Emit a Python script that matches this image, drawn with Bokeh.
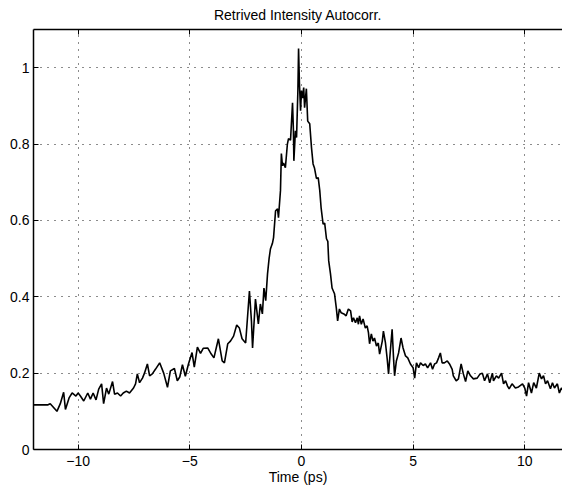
from bokeh.plotting import figure
from bokeh.models import Range1d, FixedTicker, LinearAxis, CustomLabelingPolicy
from bokeh.embed import file_html
from bokeh.resources import INLINE

title_text = "Retrived Intensity Autocorr."
x_label = "Time (ps)"
x_ticks = [-10, -5, 0, 5, 10]
x_tick_labels = ["\u221210", "\u22125", "0", "5", "10"]
y_ticks = [0, 0.2, 0.4, 0.6, 0.8, 1.0]
y_tick_labels = ["0", "0.2", "0.4", "0.6", "0.8", "1"]

time_ps = [
    -12.0, -11.35, -11.25, -11.1, -10.95, -10.8, -10.65, -10.57, -10.4, -10.27,
    -10.1, -10.0, -9.9, -9.75, -9.57, -9.45, -9.33, -9.2, -9.08, -8.95,
    -8.86, -8.73, -8.63, -8.46, -8.37, -8.24, -8.1, -7.98, -7.84, -7.7,
    -7.52, -7.43, -7.35, -7.25, -7.12, -7.03, -6.9, -6.8, -6.68, -6.54,
    -6.35, -6.17, -6.0, -5.87, -5.69, -5.56, -5.45, -5.33, -5.2, -5.06,
    -4.9, -4.8, -4.66, -4.52, -4.4, -4.2, -4.04, -3.92, -3.72, -3.55,
    -3.45, -3.3, -3.18, -3.04, -2.9, -2.78, -2.66, -2.5, -2.33, -2.24,
    -2.19, -2.06, -1.93, -1.84, -1.75, -1.68, -1.6, -1.52, -1.45, -1.39,
    -1.3, -1.25, -1.16, -1.07, -1.03, -0.94, -0.9, -0.85, -0.8, -0.72,
    -0.63, -0.58, -0.49, -0.4, -0.36, -0.34, -0.27, -0.22, -0.16, -0.13,
    -0.09, -0.04, 0.0, 0.05, 0.1, 0.14, 0.22, 0.28, 0.37, 0.45,
    0.52, 0.58, 0.67, 0.75, 0.82, 0.88, 0.97, 1.04, 1.12, 1.18,
    1.22, 1.3, 1.37, 1.48, 1.56, 1.62, 1.7, 1.78, 1.9, 2.0,
    2.1, 2.2, 2.27, 2.33, 2.42, 2.5, 2.55, 2.6, 2.68, 2.76,
    2.86, 2.94, 3.0, 3.05, 3.13, 3.2, 3.27, 3.36, 3.44, 3.5,
    3.62, 3.67, 3.76, 3.84, 3.9, 3.98, 4.06, 4.13, 4.17, 4.25,
    4.35, 4.46, 4.55, 4.66, 4.76, 4.88, 5.0, 5.07, 5.15, 5.25,
    5.33, 5.45, 5.55, 5.65, 5.78, 5.87, 5.96, 6.05, 6.14, 6.22,
    6.3, 6.4, 6.53, 6.63, 6.75, 6.8, 6.93, 7.03, 7.15, 7.25,
    7.35, 7.45, 7.57, 7.7, 7.87, 8.0, 8.1, 8.2, 8.33, 8.43,
    8.55, 8.6, 8.73, 8.83, 8.96, 9.05, 9.14, 9.23, 9.3, 9.43,
    9.58, 9.72, 9.9, 10.0, 10.08, 10.17, 10.3, 10.4, 10.52, 10.65,
    10.75, 10.84, 10.93, 11.02, 11.15, 11.24, 11.33, 11.46, 11.55, 11.64,
    11.8,
]
intensity = [
    0.117, 0.117, 0.12, 0.11, 0.10, 0.12, 0.15, 0.105, 0.136, 0.148,
    0.14, 0.148, 0.14, 0.127, 0.148, 0.132, 0.148, 0.13, 0.158, 0.172,
    0.12, 0.161, 0.145, 0.178, 0.145, 0.148, 0.14, 0.148, 0.153, 0.148,
    0.161, 0.172, 0.198, 0.175, 0.187, 0.2, 0.224, 0.193, 0.198, 0.21,
    0.227, 0.2, 0.163, 0.206, 0.212, 0.18, 0.19, 0.222, 0.192, 0.224,
    0.254, 0.216, 0.268, 0.252, 0.265, 0.266, 0.25, 0.24, 0.29, 0.232,
    0.227, 0.277, 0.284, 0.297, 0.326, 0.318, 0.29, 0.279, 0.415, 0.337,
    0.266, 0.394, 0.329, 0.381, 0.355, 0.423, 0.39, 0.46, 0.50, 0.525,
    0.54, 0.555, 0.625, 0.63, 0.607, 0.678, 0.775, 0.743, 0.75, 0.738,
    0.8, 0.814, 0.81, 0.908, 0.835, 0.756, 0.835, 0.817, 0.94, 1.05,
    0.958, 0.887, 0.94, 0.92, 0.948, 0.895, 0.945, 0.86, 0.853, 0.79,
    0.748, 0.738, 0.71, 0.712, 0.678, 0.633, 0.59, 0.593, 0.552, 0.545,
    0.494, 0.46, 0.423, 0.408, 0.371, 0.337, 0.368, 0.358, 0.355, 0.35,
    0.368, 0.363, 0.334, 0.345, 0.332, 0.345, 0.328, 0.35, 0.328, 0.342,
    0.318, 0.324, 0.306, 0.277, 0.303, 0.284, 0.292, 0.271, 0.279, 0.25,
    0.284, 0.31, 0.28, 0.237, 0.198, 0.258, 0.315, 0.232, 0.193, 0.232,
    0.253, 0.292, 0.266, 0.245, 0.24, 0.224, 0.214, 0.187, 0.227, 0.214,
    0.227, 0.22, 0.224, 0.214, 0.227, 0.21, 0.224, 0.227, 0.24, 0.253,
    0.227, 0.227, 0.232, 0.224, 0.21, 0.193, 0.18, 0.185, 0.224, 0.198,
    0.178, 0.206, 0.193, 0.185, 0.187, 0.198, 0.2, 0.18, 0.198, 0.175,
    0.2, 0.18, 0.193, 0.187, 0.2, 0.172, 0.18, 0.166, 0.159, 0.172,
    0.161, 0.164, 0.172, 0.161, 0.14, 0.175, 0.148, 0.175, 0.161, 0.2,
    0.185, 0.193, 0.172, 0.18, 0.159, 0.175, 0.161, 0.172, 0.148, 0.161,
    0.15,
]

FONT = "Liberation Sans"

p = figure(
    width=562, height=488,
    x_range=Range1d(-12, 11.69), y_range=Range1d(0, 1.1),
    output_backend="svg", toolbar_location=None,
    min_border_left=33, min_border_right=0, min_border_top=29, min_border_bottom=39,
)
p.background_fill_color = "white"
p.border_fill_color = "white"
p.outline_line_color = None

p.title.text = title_text
p.title.align = "center"
p.title.text_font = FONT
p.title.text_font_size = "14px"
p.title.text_font_style = "normal"
p.title.text_color = "black"
p.title.offset = 4
p.title.standoff = 6

p.line(time_ps, intensity, line_color="black", line_width=1.6)

xa = p.xaxis[0]
xa.ticker = FixedTicker(ticks=x_ticks)
xa.major_label_overrides = {t: l for t, l in zip(x_ticks, x_tick_labels)}
xa.axis_label = x_label
ya = p.yaxis[0]
ya.ticker = FixedTicker(ticks=y_ticks)
ya.major_label_overrides = {t: l for t, l in zip(y_ticks, y_tick_labels)}

for ax in (xa, ya):
    ax.axis_line_color = "black"
    ax.axis_line_width = 1.5
    ax.major_tick_in = 5
    ax.major_tick_out = 0
    ax.major_tick_line_color = "black"
    ax.minor_tick_line_color = None
    ax.major_label_text_font = FONT
    ax.major_label_text_font_size = "14px"
    ax.major_label_text_color = "black"
    ax.axis_label_text_font = FONT
    ax.axis_label_text_font_size = "14px"
    ax.axis_label_text_font_style = "normal"
    ax.axis_label_text_color = "black"
xa.major_label_standoff = 6
xa.axis_label_standoff = 0
ya.major_label_standoff = 4

# top frame edge with inward ticks, no labels
top = LinearAxis(ticker=FixedTicker(ticks=x_ticks))
top.axis_line_color = "black"
top.axis_line_width = 1.5
top.major_tick_in = 5
top.major_tick_out = 0
top.minor_tick_line_color = None
top.major_label_standoff = 0
top.major_label_text_font_size = "1px"
top.major_label_policy = CustomLabelingPolicy(
    code="for (const i of indices) indices.unset(i); return indices"
)
p.add_layout(top, "above")

p.xgrid.ticker = FixedTicker(ticks=x_ticks)
p.ygrid.ticker = FixedTicker(ticks=y_ticks[1:])
for g in (p.xgrid, p.ygrid):
    g.grid_line_color = "black"
    g.grid_line_dash = "1 6"
    g.grid_line_width = 1
    g.grid_line_alpha = 0.9

open("out.html", "w").write(file_html(p, INLINE))
